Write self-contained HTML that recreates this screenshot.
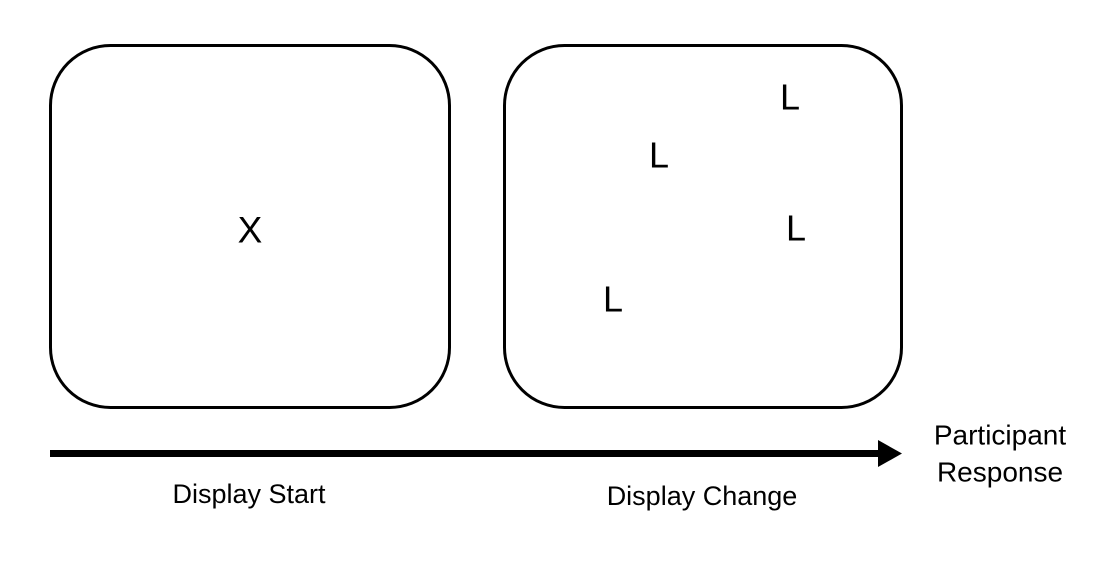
<!DOCTYPE html>
<html><head><meta charset="utf-8"><style>
body{margin:0;background:#fff;width:1096px;height:560px;overflow:hidden}
svg text{font-family:"Liberation Sans","DejaVu Sans",sans-serif;fill:#000}
</style></head><body>
<svg width="1096" height="560" viewBox="0 0 1096 560">
<rect x="50.5" y="45.5" width="399" height="362" rx="60" fill="#fff" stroke="#000" stroke-width="3"/>
<rect x="504.5" y="45.5" width="397" height="362" rx="60" fill="#fff" stroke="#000" stroke-width="3"/>
<text x="250" y="230" font-size="37" text-anchor="middle" dominant-baseline="central">X</text>
<text x="790" y="97" font-size="36" text-anchor="middle" dominant-baseline="central">L</text>
<text x="659" y="155" font-size="36" text-anchor="middle" dominant-baseline="central">L</text>
<text x="796" y="228" font-size="36" text-anchor="middle" dominant-baseline="central">L</text>
<text x="613" y="299" font-size="36" text-anchor="middle" dominant-baseline="central">L</text>
<rect x="50" y="450" width="832" height="7" fill="#000"/>
<polygon points="878,440 902,453.5 878,467" fill="#000"/>
<text x="249" y="494" font-size="27" text-anchor="middle" dominant-baseline="central">Display Start</text>
<text x="702" y="496" font-size="27" text-anchor="middle" dominant-baseline="central">Display Change</text>
<text x="1000" y="435" font-size="28" text-anchor="middle" dominant-baseline="central">Participant</text>
<text x="1000" y="472" font-size="28" text-anchor="middle" dominant-baseline="central">Response</text>
</svg>
</body></html>
